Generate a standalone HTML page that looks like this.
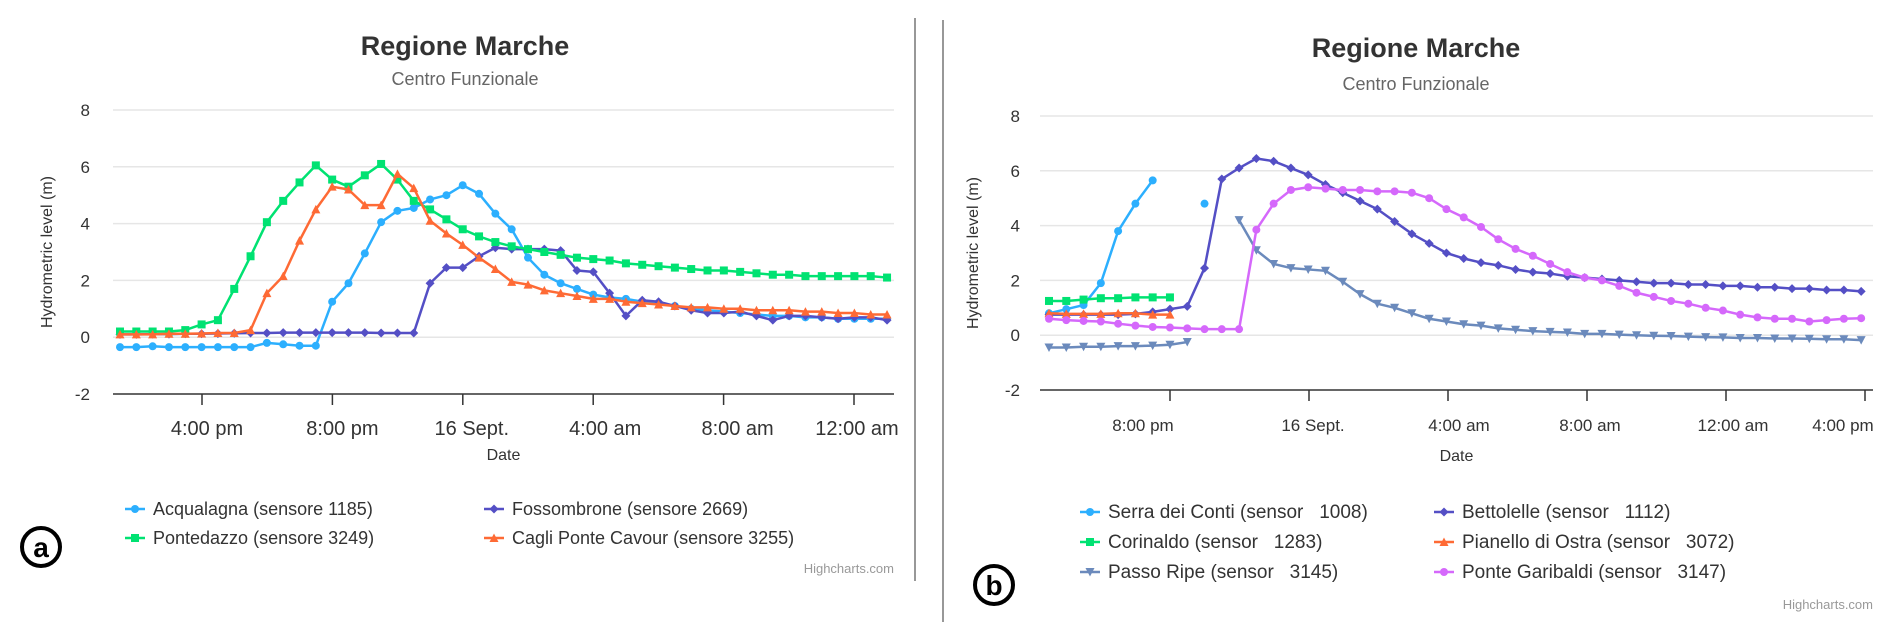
<!DOCTYPE html>
<html><head><meta charset="utf-8">
<style>
html,body{margin:0;padding:0;background:#fff;}
body{width:1892px;height:634px;position:relative;overflow:hidden;font-family:"Liberation Sans",sans-serif;}
svg{position:absolute;left:0;top:0;}
text{white-space:pre;}
</style></head>
<body>
<svg id="s" width="1892" height="634" xmlns="http://www.w3.org/2000/svg"></svg>
<script>
// ---- data (a): half-hour steps from index 0 ----
const leftTickLabels = ["4:00 pm","8:00 pm","16 Sept.","4:00 am","8:00 am","12:00 am"];
const yTicks = [-2,0,2,4,6,8];
const acqualagna = [-0.35,-0.35,-0.32,-0.35,-0.35,-0.35,-0.35,-0.35,-0.35,-0.2,-0.25,-0.3,-0.3,1.25,1.9,2.95,4.05,4.45,4.55,4.85,5.0,5.35,5.05,4.35,3.8,2.8,2.2,1.9,1.7,1.5,1.4,1.35,1.25,1.2,1.1,1.0,0.95,0.9,0.85,0.8,0.75,0.75,0.7,0.7,0.65,0.65,0.65,0.65];
const pontedazzo = [0.2,0.2,0.2,0.2,0.25,0.45,0.6,1.7,2.85,4.05,4.8,5.45,6.05,5.55,5.3,5.7,6.1,5.55,4.8,4.5,4.15,3.8,3.55,3.35,3.2,3.1,3.0,2.9,2.8,2.75,2.7,2.6,2.55,2.5,2.45,2.4,2.35,2.35,2.3,2.25,2.2,2.2,2.15,2.15,2.15,2.15,2.15,2.1];
const fossombrone = [0.1,0.1,0.11,0.11,0.12,0.12,0.13,0.14,0.15,0.15,0.16,0.16,0.16,0.16,0.16,0.16,0.15,0.15,0.15,1.9,2.45,2.45,2.85,3.15,3.1,3.1,3.1,3.05,2.35,2.3,1.55,0.75,1.3,1.25,1.1,0.95,0.85,0.85,0.9,0.75,0.6,0.75,0.75,0.7,0.65,0.7,0.7,0.6];
const cagli = [0.1,0.1,0.1,0.12,0.12,0.13,0.15,0.15,0.25,1.55,2.15,3.4,4.5,5.3,5.2,4.65,4.65,5.75,5.25,4.1,3.65,3.25,2.8,2.4,1.95,1.85,1.65,1.55,1.45,1.35,1.35,1.25,1.2,1.15,1.1,1.05,1.05,1.0,1.0,0.95,0.95,0.95,0.9,0.9,0.85,0.85,0.8,0.8];
// ---- data (b) ----
const rightTickLabels = ["8:00 pm","16 Sept.","4:00 am","8:00 am","12:00 am","4:00 pm"];
const serra = [0.8,0.95,1.1,1.9,3.8,4.8,5.65,null,null,4.8];
const corinaldo = [1.25,1.25,1.3,1.35,1.35,1.38,1.38,1.38];
const pianello = [0.8,0.78,0.78,0.78,0.8,0.8,0.75,0.75];
const passoRipe = [-0.45,-0.45,-0.42,-0.42,-0.4,-0.4,-0.38,-0.35,-0.25,null,null,4.2,3.1,2.6,2.45,2.4,2.35,1.95,1.5,1.15,1.0,0.8,0.6,0.5,0.4,0.35,0.25,0.2,0.15,0.12,0.1,0.05,0.05,0.02,0,-0.02,-0.03,-0.05,-0.07,-0.08,-0.1,-0.1,-0.12,-0.12,-0.13,-0.15,-0.15,-0.18];
const bettolelle = [0.75,0.75,0.75,0.75,0.75,0.78,0.85,0.95,1.05,2.45,5.7,6.1,6.45,6.35,6.1,5.85,5.5,5.2,4.9,4.6,4.15,3.7,3.35,3.0,2.8,2.65,2.55,2.4,2.3,2.25,2.15,2.1,2.05,2.0,1.95,1.9,1.9,1.85,1.85,1.8,1.8,1.75,1.75,1.7,1.7,1.65,1.65,1.6];
const garibaldi = [0.6,0.55,0.52,0.5,0.42,0.35,0.3,0.28,0.25,0.22,0.22,0.22,3.85,4.8,5.3,5.4,5.35,5.3,5.3,5.25,5.25,5.2,5.0,4.6,4.3,3.95,3.5,3.15,2.9,2.6,2.3,2.1,2.0,1.8,1.55,1.4,1.25,1.15,1.0,0.9,0.75,0.65,0.6,0.6,0.5,0.55,0.6,0.62];

const NS="http://www.w3.org/2000/svg";
const svg=document.getElementById('s');
function el(tag,attrs,parent){const e=document.createElementNS(NS,tag);for(const k in attrs)e.setAttribute(k,attrs[k]);(parent||svg).appendChild(e);return e;}
function txt(str,x,y,size,fill,anchor,weight,parent){const t=el('text',{x:x,y:y,'font-size':size,fill:fill,'text-anchor':anchor||'middle','font-weight':weight||'normal','font-family':'Liberation Sans, sans-serif'},parent);t.textContent=str;return t;}
function marker(g,type,x,y,c){
  let m;
  if(type==='circle') m=el('circle',{cx:x,cy:y,r:4,fill:c},g);
  else if(type==='square') m=el('rect',{x:x-4,y:y-4,width:8,height:8,fill:c},g);
  else if(type==='diamond') m=el('path',{d:`M${x} ${y-4.5}L${x+4.5} ${y}L${x} ${y+4.5}L${x-4.5} ${y}Z`,fill:c},g);
  else if(type==='triangle') m=el('path',{d:`M${x} ${y-4.5}L${x+4.5} ${y+4}L${x-4.5} ${y+4}Z`,fill:c},g);
  else m=el('path',{d:`M${x} ${y+4.5}L${x+4.5} ${y-4}L${x-4.5} ${y-4}Z`,fill:c},g);
  
  
}
function chart(cfg){
  const g=el('g',{});
  
  
  const yS=v=>cfg.y0+(v-(-2))*(cfg.y8-cfg.y0)/10;
  const xS=i=>cfg.x0+i*cfg.dx;
  const t=txt('Regione Marche',cfg.cx,cfg.ty,27,'#333','middle','bold',g);
  
  const st=txt('Centro Funzionale',cfg.cx,cfg.sy,18,'#666','middle','normal',g);
  
  yTicks.forEach(v=>{
    if(v>-2){const gl=el('line',{x1:cfg.px0,x2:cfg.px1,y1:yS(v),y2:yS(v),stroke:'#e6e6e6','stroke-width':1.5},g);
      }
    const l=txt(String(v),cfg.ylx,yS(v)+6,17,'#333','end','normal',g);
    
  });
  const ax=el('line',{x1:cfg.px0,x2:cfg.px1,y1:yS(-2),y2:yS(-2),stroke:'#333','stroke-width':1.5},g);
  
  cfg.ticks.forEach((lab,k)=>{
    const tx=cfg.tick0+k*cfg.tickStep;
    const tl=el('line',{x1:tx,x2:tx,y1:yS(-2),y2:yS(-2)+11,stroke:'#333','stroke-width':1.5},g);
    
    const lb=txt(lab,tx+cfg.labOff[k],cfg.lty,cfg.lsize,'#333','middle','normal',g);
    
  });
  const yt=txt('Hydrometric level (m)',0,0,16,'#333','middle','normal',g);
  yt.setAttribute('transform',`translate(${cfg.ytx},${(yS(-2)+yS(8))/2}) rotate(-90)`);
  
  const dt=txt('Date',(cfg.px0+cfg.px1)/2,cfg.dty,16,'#333','middle','normal',g);
  
  cfg.series.forEach(s=>{
    const sg=el('g',{},g);
    
    
    let d='',pen=false;
    s.data.forEach((v,i)=>{ if(v===null){pen=false;return;} d+=(pen?'L':'M')+xS(i)+' '+yS(v)+' '; pen=true; });
    el('path',{d:d,fill:'none',stroke:s.c,'stroke-width':2.5,'stroke-linejoin':'round'},sg);
    s.data.forEach((v,i)=>{ if(v!==null) marker(sg,s.m,xS(i),yS(v),s.c); });
    const lg=el('g',{},g);
    
    
    el('line',{x1:s.lx-10,x2:s.lx+10,y1:s.ly,y2:s.ly,stroke:s.c,'stroke-width':2.5},lg);
    marker(lg,s.m,s.lx,s.ly,s.c);
    txt(s.label,s.lx+18,s.ly+6,cfg.legSize,'#333','start','normal',lg);
  });
  const hc=txt('Highcharts.com',cfg.px1,cfg.hcy,13,'#999','end','normal',g);
  
  const bc=el('circle',{cx:cfg.bx,cy:cfg.by,r:19,fill:'#fff',stroke:'#000','stroke-width':4},g);
  
  txt(cfg.badge,cfg.bx,cfg.by+10,28,'#000','middle','bold',g);
}
chart({name:'chart-a',cx:465,ty:55,sy:85,y0:394,y8:110,px0:113,px1:894,x0:120,dx:16.32,ylx:90,
  ticks:leftTickLabels,tick0:202,tickStep:130.4,labOff:[5,10,9,12,14,3],lty:435,lsize:20,ytx:52,dty:460,hcy:573,
  bx:41,by:547,badge:'a',legSize:18,
  series:[
   {id:'acqualagna',data:acqualagna,c:'#2caffe',m:'circle',label:'Acqualagna (sensore 1185)',lx:135,ly:509},
   {id:'fossombrone',data:fossombrone,c:'#544fc5',m:'diamond',label:'Fossombrone (sensore 2669)',lx:494,ly:509},
   {id:'pontedazzo',data:pontedazzo,c:'#00e272',m:'square',label:'Pontedazzo (sensore 3249)',lx:135,ly:538},
   {id:'cagli',data:cagli,c:'#fe6a35',m:'triangle',label:'Cagli Ponte Cavour (sensore 3255)',lx:494,ly:538}]});
chart({name:'chart-b',cx:1416,ty:57,sy:90,y0:390,y8:116,px0:1040,px1:1873,x0:1049,dx:17.28,ylx:1020,
  ticks:rightTickLabels,tick0:1170,tickStep:139,labOff:[-27,4,11,3,7,-22],lty:431,lsize:17,ytx:978,dty:461,hcy:609,
  bx:994,by:585,badge:'b',legSize:19,
  series:[
   {id:'serra',data:serra,c:'#2caffe',m:'circle',label:'Serra dei Conti (sensor   1008)',lx:1090,ly:512},
   {id:'bettolelle',data:bettolelle,c:'#544fc5',m:'diamond',label:'Bettolelle (sensor   1112)',lx:1444,ly:512},
   {id:'corinaldo',data:corinaldo,c:'#00e272',m:'square',label:'Corinaldo (sensor   1283)',lx:1090,ly:542},
   {id:'pianello',data:pianello,c:'#fe6a35',m:'triangle',label:'Pianello di Ostra (sensor   3072)',lx:1444,ly:542},
   {id:'passo-ripe',data:passoRipe,c:'#6b8abc',m:'tdown',label:'Passo Ripe (sensor   3145)',lx:1090,ly:572},
   {id:'garibaldi',data:garibaldi,c:'#d568fb',m:'circle',label:'Ponte Garibaldi (sensor   3147)',lx:1444,ly:572}]});
const d1=el('line',{x1:915,x2:915,y1:18,y2:581,stroke:'#777','stroke-width':1.5});


const d2=el('line',{x1:943,x2:943,y1:20,y2:622,stroke:'#777','stroke-width':1.5});


</script>
</body></html>
